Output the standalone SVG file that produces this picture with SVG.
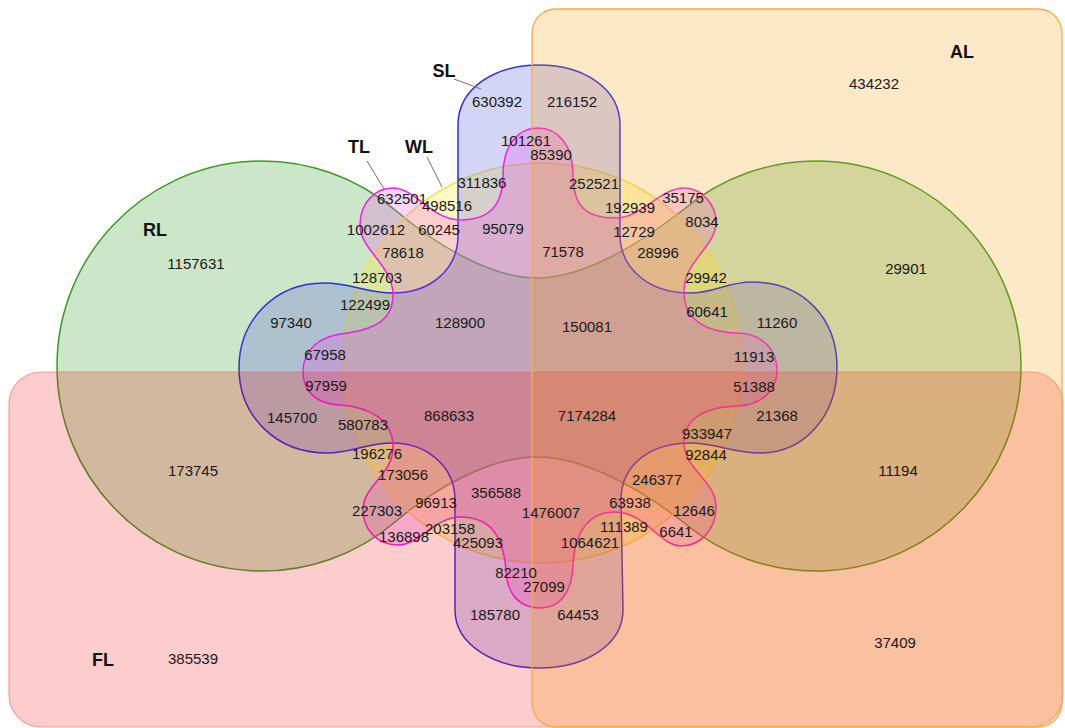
<svg xmlns="http://www.w3.org/2000/svg" width="1065" height="728" viewBox="0 0 1065 728">
<style>
text{font-family:"Liberation Sans",Arial,sans-serif;font-size:15px;fill:#1a1a1a;text-anchor:middle}
.lbl{font-weight:bold;font-size:18px;fill:#111}
.set{stroke-width:1.5}
.lead{stroke:#707070;stroke-width:1;fill:none}
</style>
<rect width="1065" height="728" fill="#ffffff"/>
<g id="RL"><path class="set" d="M 537,278 C 584,278 639,244 683,210 A 205 205 0 1 1 683,522 C 639,488 584,457 537,457 C 490,457 435,488 395,522 A 205 205 0 1 1 395,210 C 435,244 490,278 537,278 Z" fill="#52ac48" fill-opacity="0.3" stroke="#3f9a2a"/></g>
<g id="WL"><circle class="set" cx="542" cy="363" r="200" fill="#fff03c" fill-opacity="0.3" stroke="#f3e060"/></g>
<g id="SL"><path class="set" d="M 458,125 C 458,88 495,65 539,65 C 583,65 620,88 620,125 L 620,235 C 620,265 645,293 690,293 C 715,293 727,282 752,282 C 805,282 837,320 837,367 C 837,415 805,453 760,453 C 732,453 717,443 690,443 C 650,443 621,465 621,500 L 623,610 C 623,645 585,668 539,668 C 495,668 455,645 455,610 L 455,500 C 455,465 425,443 393,443 C 365,443 352,453 327,453 C 275,453 239,415 239,368 C 239,320 275,283 324,283 C 352,283 365,293 393,293 C 430,293 458,270 458,235 Z" fill="#5a5ae0" fill-opacity="0.26" stroke="#2e2ee0"/></g>
<g id="TL"><path class="set" d="M 503,175 C 503,145 518,128 538,128 C 558,128 573,145 573,175 C 573,205 585,218 615,218 C 642,218 660,188 684,188 C 702,188 716,205 716,222 C 716,247 685,260 684,290 C 683,318 703,332 738,333 C 763,334 777,350 777,370 C 777,392 760,405 738,406 C 703,407 684,420 684,442 C 684,470 716,480 716,507 C 716,530 700,546 681,546 C 660,546 645,512 615,512 C 590,512 575,530 573,565 C 572,595 558,608 540,608 C 520,608 507,595 506,570 C 503,535 490,517 460,517 C 435,517 420,545 398,545 C 378,545 363,530 363,510 C 363,485 393,475 393,447 C 393,420 370,407 340,405 C 315,404 303,390 303,372 C 303,350 318,338 340,334 C 375,330 393,320 393,295 C 393,265 360,250 360,225 C 360,203 375,188 393,188 C 415,188 432,220 460,220 C 490,220 503,205 503,175 Z" fill="#eb3ce6" fill-opacity="0.22" stroke="#f020e0"/></g>
<g id="FL"><rect x="9" y="372" width="1054" height="355" rx="32" fill="#f50000" fill-opacity="0.2" stroke="#f06060" stroke-opacity="0.55" stroke-width="1.2"/></g>
<g id="AL"><rect x="532" y="9" width="530" height="718" rx="24" fill="#f59605" fill-opacity="0.22" stroke="#f5ad45" stroke-width="1.3"/></g>
<g id="connectors">
<line class="lead" x1="454" y1="79" x2="481" y2="89"/>
<line class="lead" x1="367" y1="161" x2="384" y2="189"/>
<line class="lead" x1="427" y1="157" x2="442" y2="187"/>
</g>
<g id="labels">
<text class="lbl" x="444" y="77">SL</text>
<text class="lbl" x="359" y="153">TL</text>
<text class="lbl" x="419" y="153">WL</text>
<text class="lbl" x="962" y="58">AL</text>
<text class="lbl" x="155" y="236">RL</text>
<text class="lbl" x="103" y="666">FL</text>
</g>
<g id="values">
<text x="497" y="107">630392</text>
<text x="572" y="107">216152</text>
<text x="874" y="89">434232</text>
<text x="526" y="146">101261</text>
<text x="551" y="160">85390</text>
<text x="482" y="188">311836</text>
<text x="594" y="189">252521</text>
<text x="683" y="203">35175</text>
<text x="402" y="204">632501</text>
<text x="447" y="211">498516</text>
<text x="630" y="213">192939</text>
<text x="702" y="227">8034</text>
<text x="376" y="235">1002612</text>
<text x="439" y="235">60245</text>
<text x="503" y="234">95079</text>
<text x="634" y="237">12729</text>
<text x="563" y="257">71578</text>
<text x="658" y="258">28996</text>
<text x="403" y="258">78618</text>
<text x="196" y="269">1157631</text>
<text x="906" y="274">29901</text>
<text x="377" y="283">128703</text>
<text x="706" y="283">29942</text>
<text x="365" y="310">122499</text>
<text x="707" y="317">60641</text>
<text x="291" y="328">97340</text>
<text x="460" y="328">128900</text>
<text x="587" y="332">150081</text>
<text x="777" y="328">11260</text>
<text x="325" y="360">67958</text>
<text x="754" y="362">11913</text>
<text x="326" y="391">97959</text>
<text x="754" y="392">51388</text>
<text x="292" y="423">145700</text>
<text x="363" y="430">580783</text>
<text x="449" y="421">868633</text>
<text x="587" y="421">7174284</text>
<text x="777" y="421">21368</text>
<text x="707" y="439">933947</text>
<text x="377" y="459">196276</text>
<text x="706" y="460">92844</text>
<text x="193" y="476">173745</text>
<text x="403" y="480">173056</text>
<text x="657" y="485">246377</text>
<text x="898" y="476">11194</text>
<text x="496" y="498">356588</text>
<text x="436" y="508">96913</text>
<text x="630" y="508">63938</text>
<text x="377" y="516">227303</text>
<text x="551" y="518">1476007</text>
<text x="694" y="516">12646</text>
<text x="624" y="532">111389</text>
<text x="450" y="534">203158</text>
<text x="404" y="542">136898</text>
<text x="676" y="537">6641</text>
<text x="478" y="548">425093</text>
<text x="590" y="548">1064621</text>
<text x="516" y="578">82210</text>
<text x="544" y="592">27099</text>
<text x="495" y="620">185780</text>
<text x="578" y="620">64453</text>
<text x="895" y="648">37409</text>
<text x="193" y="664">385539</text>
</g>
</svg>
